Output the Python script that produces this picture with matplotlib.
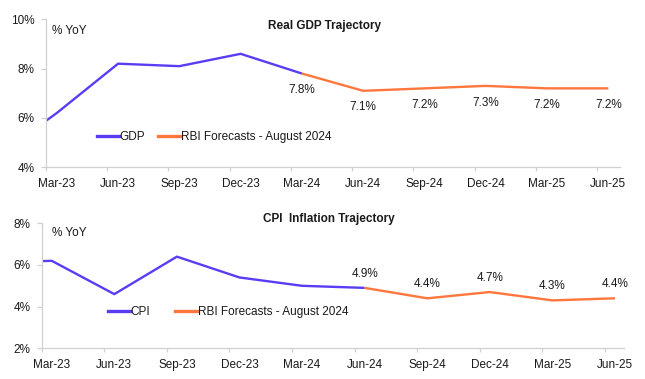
import numpy as np
import matplotlib
matplotlib.use("Agg")
import matplotlib.pyplot as plt
from matplotlib.lines import Line2D

plt.rcParams['font.family'] = ['Liberation Sans Narrow', 'Liberation Sans', 'DejaVu Sans']

# ---------------- data ----------------
quarters = ['Dec-22', 'Mar-23', 'Jun-23', 'Sep-23', 'Dec-23', 'Mar-24',
            'Jun-24', 'Sep-24', 'Dec-24', 'Mar-25', 'Jun-25']
tick_labels = quarters[1:]

gdp_actual = [4.4, 6.2, 8.2, 8.1, 8.6, 7.8]          # Dec-22 .. Mar-24
gdp_forecast = [7.8, 7.1, 7.2, 7.3, 7.2, 7.2]        # Mar-24 .. Jun-25
cpi_actual = [6.1, 6.2, 4.6, 6.4, 5.4, 5.0, 4.9]     # Dec-22 .. Jun-24
cpi_forecast = [4.9, 4.4, 4.7, 4.3, 4.4]             # Jun-24 .. Jun-25

gdp_yticks = [4, 6, 8, 10]
cpi_yticks = [2, 4, 6, 8]

PURPLE = '#5b3cf5'
ORANGE = '#ff773d'
GRID = '#d0d0d0'
TXT = '#1a1a1a'

x_all = np.arange(len(quarters)) - 1  # Dec-22 sits at -1 (clipped)

fig = plt.figure(figsize=(6.45, 3.79), dpi=100)

def style_axes(ax, xlim, yticks, tick_off):
    ax.set_xlim(*xlim)
    ax.set_ylim(yticks[0], yticks[-1])
    for s in ['top', 'right']:
        ax.spines[s].set_visible(False)
    for s in ['left', 'bottom']:
        ax.spines[s].set_color(GRID)
        ax.spines[s].set_linewidth(0.9)
    ax.set_yticks(yticks)
    ax.set_yticklabels([f'{v}%' for v in yticks])
    ax.tick_params(axis='y', length=3.6, width=0.9, color=GRID, pad=4.5,
                   labelsize=8.5, labelcolor=TXT)
    n = len(tick_labels)
    ax.set_xticks(np.arange(n))
    ax.set_xticklabels(tick_labels)
    ax.tick_params(axis='x', which='major', length=0, pad=8, labelsize=8.5,
                   labelcolor=TXT)
    ax.set_xticks(np.arange(n) + tick_off, minor=True)
    ax.tick_params(axis='x', which='minor', length=2.8, width=0.9, color=GRID)

# ---------------- top: GDP ----------------
ax1 = fig.add_axes([0.0709, 0.5586, 0.8904, 0.3905])
style_axes(ax1, (-0.18, 9.19), gdp_yticks, -0.18)
n_act = len(gdp_actual)
xa = x_all[:n_act]
xf = x_all[n_act - 1:n_act - 1 + len(gdp_forecast)]
ax1.plot(xa, gdp_actual, color=PURPLE, lw=1.7, solid_capstyle='butt')
ax1.plot(xf, gdp_forecast, color=ORANGE, lw=1.7, solid_capstyle='butt')
for xi, v in zip(xf, gdp_forecast):
    ax1.annotate(f'{v:.1f}%', (xi, v), xytext=(0, -12), textcoords='offset points',
                 ha='center', va='center', fontsize=8.5, color=TXT)
h1 = [Line2D([], [], color=PURPLE, lw=2.4), Line2D([], [], color=ORANGE, lw=2.4)]
ax1.legend(h1, ['GDP', 'RBI Forecasts - August 2024'], loc='center left',
           bbox_to_anchor=(0.0888, 0.207), ncol=2, frameon=False, fontsize=8.5,
           handlelength=1.85, handletextpad=0.1, columnspacing=1.1,
           borderpad=0, borderaxespad=0, labelcolor=TXT)

# ---------------- bottom: CPI ----------------
ax2 = fig.add_axes([0.0647, 0.0810, 0.9033, 0.3298])
style_axes(ax2, (-0.16, 9.15), cpi_yticks, -0.16)
n_act = len(cpi_actual)
xa = x_all[:n_act]
xf = x_all[n_act - 1:n_act - 1 + len(cpi_forecast)]
ax2.plot(xa, cpi_actual, color=PURPLE, lw=1.7, solid_capstyle='butt')
ax2.plot(xf, cpi_forecast, color=ORANGE, lw=1.7, solid_capstyle='butt')
for xi, v in zip(xf, cpi_forecast):
    ax2.annotate(f'{v:.1f}%', (xi, v), xytext=(0, 10), textcoords='offset points',
                 ha='center', va='center', fontsize=8.5, color=TXT)
h2 = [Line2D([], [], color=PURPLE, lw=2.4), Line2D([], [], color=ORANGE, lw=2.4)]
ax2.legend(h2, ['CPI', 'RBI Forecasts - August 2024'], loc='center left',
           bbox_to_anchor=(0.1133, 0.288), ncol=2, frameon=False, fontsize=8.5,
           handlelength=1.85, handletextpad=0.1, columnspacing=2.1,
           borderpad=0, borderaxespad=0, labelcolor=TXT)

# ---------------- titles & unit labels ----------------
fig.text(0.503, 0.932, 'Real GDP Trajectory', ha='center', va='center',
         fontsize=8.5, fontweight='bold', color=TXT)
fig.text(0.510, 0.4215, 'CPI  Inflation Trajectory', ha='center', va='center',
         fontsize=8.5, fontweight='bold', color=TXT)
fig.text(0.0811, 0.919, '% YoY', ha='left', va='center', fontsize=8.5, color=TXT)
fig.text(0.0802, 0.386, '% YoY', ha='left', va='center', fontsize=8.5, color=TXT)

fig.savefig('out.png', dpi=100)
